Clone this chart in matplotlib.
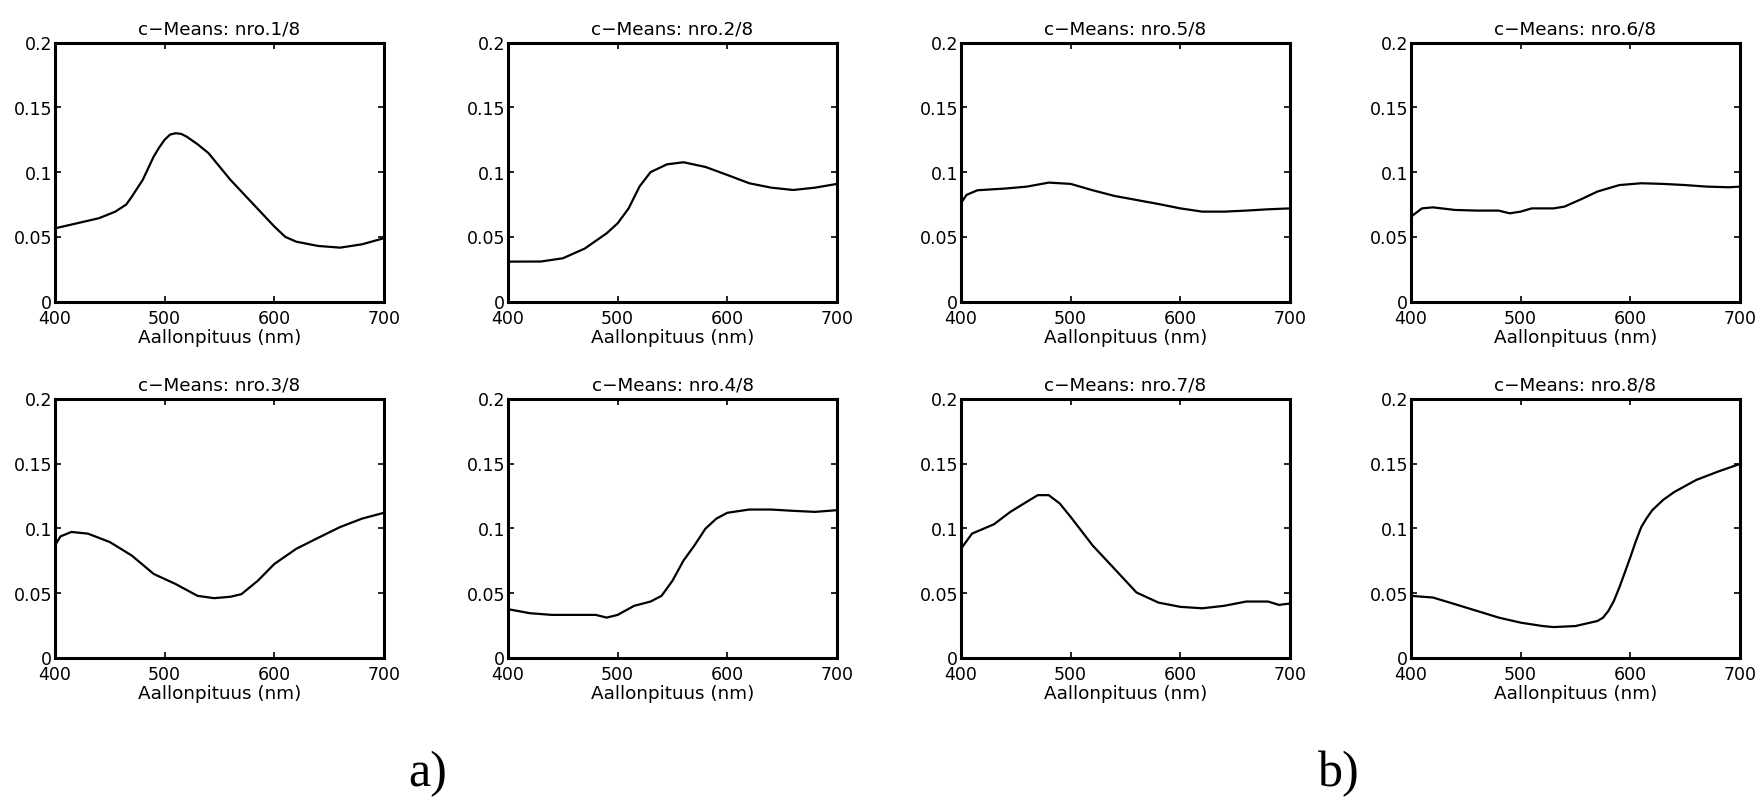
import numpy as np
import matplotlib
matplotlib.use("Agg")
import matplotlib.pyplot as plt

# cluster mean spectra (wavelength nm, reflectance)
wl_1 = [400, 420, 440, 455, 465, 470, 480, 490, 495, 500, 505, 510, 515, 520, 530, 540, 560, 580, 600,
        610, 620, 640, 660, 680, 700]
val_1 = [0.0566, 0.0605, 0.0644, 0.0695, 0.075, 0.081, 0.094, 0.112, 0.119, 0.125, 0.129, 0.130, 0.1295,
         0.1274, 0.1215, 0.1146, 0.094, 0.076, 0.058, 0.050, 0.0463, 0.043, 0.0417, 0.0443, 0.049]

wl_2 = [400, 430, 450, 470, 490, 500, 510, 520, 530, 545, 560, 580, 600, 620, 640, 660, 680, 700]
val_2 = [0.0309, 0.031, 0.0335, 0.041, 0.0528, 0.0605, 0.072, 0.089, 0.100, 0.106, 0.1076, 0.104,
         0.0978, 0.0914, 0.088, 0.0862, 0.088, 0.0909]

wl_3 = [400, 405, 415, 430, 450, 470, 490, 510, 530, 545, 560, 570, 585, 600, 620, 640, 660, 680, 700]
val_3 = [0.0868, 0.0938, 0.0972, 0.0959, 0.0894, 0.079, 0.0648, 0.057, 0.0479, 0.0461, 0.0472, 0.0492,
         0.0596, 0.0725, 0.0842, 0.0927, 0.101, 0.1075, 0.112]

wl_4 = [400, 420, 440, 460, 480, 490, 500, 515, 530, 540, 550, 560, 570, 580, 590, 600, 620, 640, 660, 680, 700]
val_4 = [0.0376, 0.0345, 0.0332, 0.0332, 0.0332, 0.0311, 0.0332, 0.0402, 0.0435, 0.0479, 0.0596, 0.0751,
         0.0868, 0.0997, 0.1075, 0.112, 0.1145, 0.1145, 0.1135, 0.1127, 0.114]

wl_5 = [400, 405, 415, 440, 460, 480, 500, 520, 540, 560, 580, 600, 620, 640, 660, 680, 700]
val_5 = [0.076, 0.0824, 0.086, 0.0873, 0.0888, 0.0919, 0.0909, 0.086, 0.0816, 0.0785, 0.0754, 0.072,
         0.0695, 0.0695, 0.0703, 0.0713, 0.072]

wl_6 = [400, 410, 420, 440, 460, 480, 490, 500, 510, 530, 540, 555, 570, 590, 610, 630, 650, 670, 690, 700]
val_6 = [0.0656, 0.072, 0.0728, 0.0708, 0.0703, 0.0703, 0.0682, 0.0695, 0.072, 0.072, 0.0734, 0.079,
         0.085, 0.090, 0.0914, 0.0909, 0.090, 0.0888, 0.0883, 0.0888]

wl_7 = [400, 410, 430, 445, 460, 470, 480, 490, 500, 520, 540, 560, 580, 600, 620, 640, 660, 680, 690, 700]
val_7 = [0.0842, 0.0959, 0.1031, 0.1127, 0.1205, 0.1256, 0.1256, 0.1192, 0.1088, 0.0868, 0.0687, 0.0505,
         0.0427, 0.0394, 0.0383, 0.0402, 0.0435, 0.0435, 0.0409, 0.042]

wl_8 = [400, 420, 440, 460, 480, 500, 520, 530, 550, 570, 575, 580, 585, 590, 595, 600, 605, 610, 615,
        620, 630, 640, 660, 680, 700]
val_8 = [0.0479, 0.0466, 0.0415, 0.0363, 0.0311, 0.0272, 0.0246, 0.0238, 0.0246, 0.0285, 0.031, 0.0363,
         0.044, 0.0544, 0.066, 0.0777, 0.090, 0.101, 0.108, 0.114, 0.122, 0.128, 0.1373, 0.1438, 0.1497]

spectra = {1: (wl_1, val_1), 2: (wl_2, val_2), 3: (wl_3, val_3), 4: (wl_4, val_4),
           5: (wl_5, val_5), 6: (wl_6, val_6), 7: (wl_7, val_7), 8: (wl_8, val_8)}

# grid placement: top row 1,2,5,6 ; bottom row 3,4,7,8
layout = [[1, 2, 5, 6], [3, 4, 7, 8]]

x_ticks = [400, 500, 600, 700]
y_ticks = [0, 0.05, 0.1, 0.15, 0.2]
y_labels = ["0", "0.05", "0.1", "0.15", "0.2"]

W, H = 1757, 804
fig = plt.figure(figsize=(W / 100, 8.045), dpi=100)
plt.rcParams['font.family'] = 'DejaVu Sans'

col_left = [55, 508, 961, 1411]
row_top = [43, 399]
ax_w, ax_h = 329, 259

for r, row in enumerate(layout):
    for c, k in enumerate(row):
        left = col_left[c] / W
        bottom = 1 - (row_top[r] + ax_h) / H
        ax = fig.add_axes([left, bottom, ax_w / W, ax_h / H])
        wl, val = spectra[k]
        ax.plot(wl, val, color='black', lw=1.6)
        ax.set_xlim(400, 700)
        ax.set_ylim(0, 0.2)
        ax.set_xticks(x_ticks)
        ax.set_yticks(y_ticks)
        ax.set_yticklabels(y_labels)
        ax.tick_params(direction='in', length=4, width=1.2, top=True, right=True,
                       labelsize=12.5, pad=2)
        ax.tick_params(axis='x', pad=5.5)
        for s in ax.spines.values():
            s.set_linewidth(2.2)
        ax.set_title("c\u2212Means: nro.%d/8" % k, fontsize=13.2, pad=6)
        ax.set_xlabel("Aallonpituus (nm)", fontsize=13.2, labelpad=1)

fig.text(428 / W, 1 - 773 / H, "a)", family='Liberation Serif', fontsize=36,
         ha='center', va='center')
fig.text(1339 / W, 1 - 773 / H, "b)", family='Liberation Serif', fontsize=36,
         ha='center', va='center')

fig.savefig("out.png", dpi=100, facecolor='white')
